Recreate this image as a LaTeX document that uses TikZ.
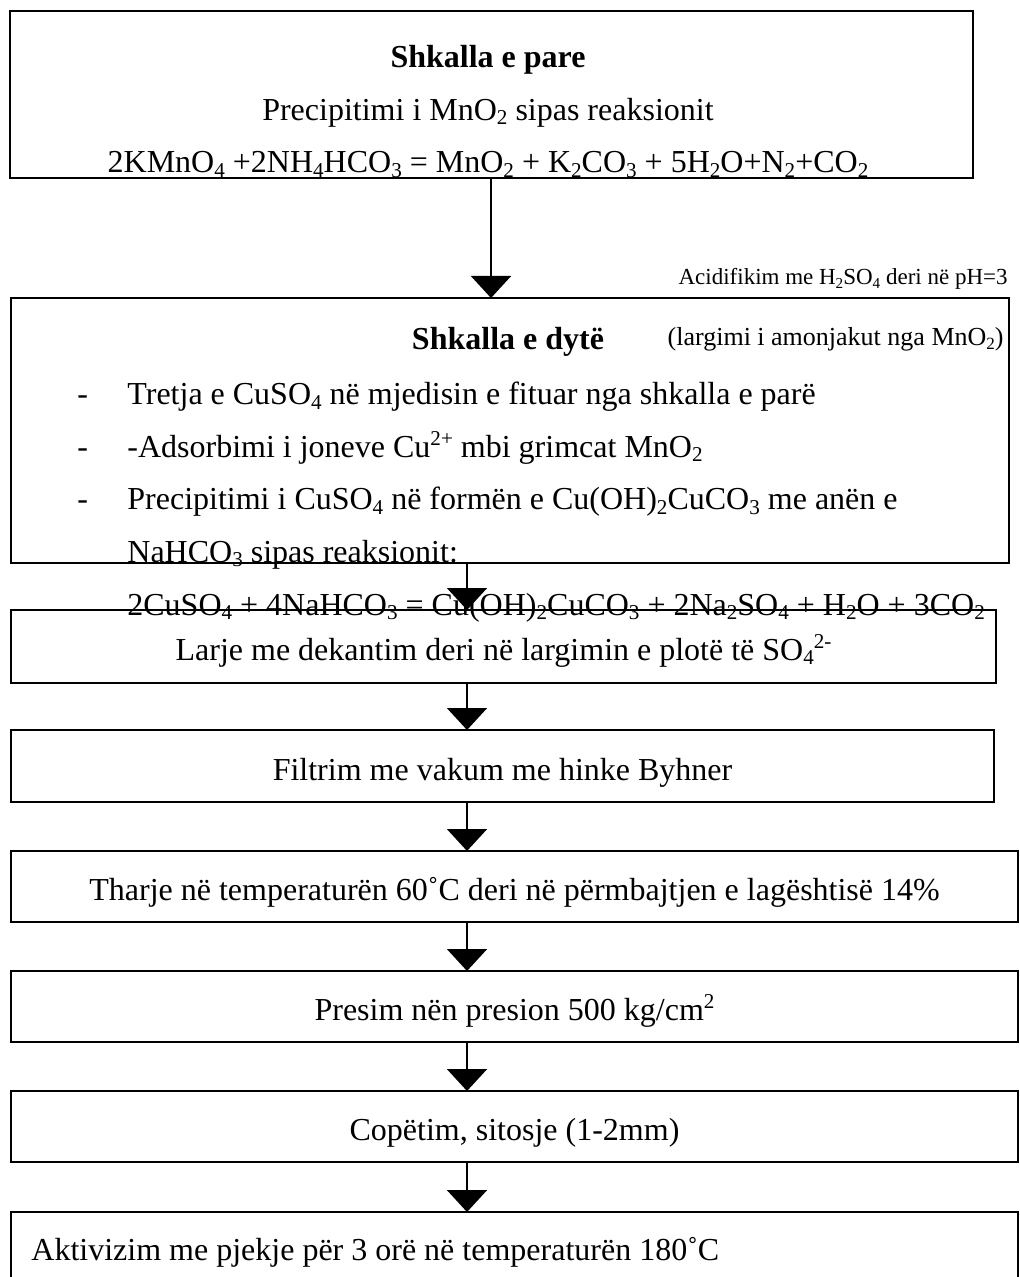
\documentclass[tikz,border=0pt]{standalone}
\usepackage{fontspec}
\setmainfont{Liberation Serif}
\usetikzlibrary{arrows.meta}

% chemical indices as Word sets them
\newcommand{\dn}[1]{\raisebox{-0.14em}{\scalebox{0.66}{#1}}}
\newcommand{\up}[1]{\raisebox{0.36em}{\scalebox{0.66}{#1}}}

\tikzset{
  stage/.style={draw, line width=1pt, anchor=north west, inner sep=0pt, outer sep=0pt,
    font=\fontsize{16}{26.25}\selectfont, text height=14pt, text depth=0pt},
  flow/.style={line width=1pt, -{Triangle[width=20pt,length=11pt]}},
  txt/.style={inner sep=0pt, font=\fontsize{16}{26.25}\selectfont},
  note/.style={inner sep=0pt, font=\fontsize{11.5}{14}\selectfont},
}

\begin{document}
\begin{tikzpicture}[x=0.5pt, y=-0.5pt]
  \useasboundingbox (0,0) rectangle (1019,1277);
  % boxes
  \node[stage, minimum width=481.5pt, minimum height=83.5pt] (b1) at (10,11) {};
  \node[stage, minimum width=499pt, minimum height=132.5pt] (b2) at (11,298) {};
  \node[stage, minimum width=492.5pt, minimum height=36.5pt] (b3) at (11,610) {Larje me dekantim deri në largimin e plotë të SO\dn{4}\up{2-}};
  \node[stage, minimum width=491.5pt, minimum height=36pt] (b4) at (11,730) {Filtrim me vakum me hinke Byhner};
  \node[stage, minimum width=503.5pt, minimum height=35.5pt] (b5) at (11,851) {Tharje në temperaturën 60˚C deri në përmbajtjen e lagështisë 14\%};
  \node[stage, minimum width=503.5pt, minimum height=35.5pt] (b6) at (11,971) {Presim nën presion 500 kg/cm\up{2}};
  \node[stage, minimum width=503.5pt, minimum height=35.5pt] (b7) at (11,1091) {Copëtim, sitosje (1-2mm)};
  \node[stage, minimum width=503.5pt, minimum height=50pt] (b8) at (11,1212) {};

  % texts of the first two stages
  \node[txt, anchor=base] (t1) at (488,68) {\begin{tabular}[t]{@{}c@{}}
    \textbf{Shkalla e pare}\\
    Precipitimi i MnO\dn{2} sipas reaksionit\\
    2KMnO\dn{4} +2NH\dn{4}HCO\dn{3} = MnO\dn{2} + K\dn{2}CO\dn{3} + 5H\dn{2}O+N\dn{2}+CO\dn{2}
  \end{tabular}};
  \node[txt, anchor=base] (t2) at (508,350) {\textbf{Shkalla e dytë}};
  \node[note, font=\fontsize{13}{14}\selectfont, anchor=base east] (n2) at (1004,346) {(largimi i amonjakut nga MnO\dn{2})};
  \node[note, anchor=base east] (n1) at (1008,285) {Acidifikim me H\dn{2}SO\dn{4} deri në pH=3};
  \node[txt, anchor=base west] (l2) at (77,405) {\begin{tabular}[t]{@{}p{25pt}@{}l@{}}
    - & Tretja e CuSO\dn{4} në mjedisin e fituar nga shkalla e parë\\
    - & -Adsorbimi i joneve Cu\up{2+} mbi grimcat MnO\dn{2}\\
    - & Precipitimi i CuSO\dn{4} në formën e Cu(OH)\dn{2}CuCO\dn{3} me anën e\\
      & NaHCO\dn{3} sipas reaksionit:\\
      & 2CuSO\dn{4} + 4NaHCO\dn{3} = Cu(OH)\dn{2}CuCO\dn{3} + 2Na\dn{2}SO\dn{4} + H\dn{2}O + 3CO\dn{2}
  \end{tabular}};
  \node[txt, anchor=base west] (t8) at (31,1260) {Aktivizim me pjekje për 3 orë në temperaturën 180˚C};

  % arrows
  \coordinate (mid) at (491,0);
  \coordinate (axis) at (467,0);
  \draw[flow] (b1.south -| mid) -- (b2.north -| mid);
  \draw[flow] (b2.south -| axis) -- (b3.north -| axis);
  \draw[flow] (b3.south -| axis) -- (b4.north -| axis);
  \draw[flow] (b4.south -| axis) -- (b5.north -| axis);
  \draw[flow] (b5.south -| axis) -- (b6.north -| axis);
  \draw[flow] (b6.south -| axis) -- (b7.north -| axis);
  \draw[flow] (b7.south -| axis) -- (b8.north -| axis);
\end{tikzpicture}
\end{document}
